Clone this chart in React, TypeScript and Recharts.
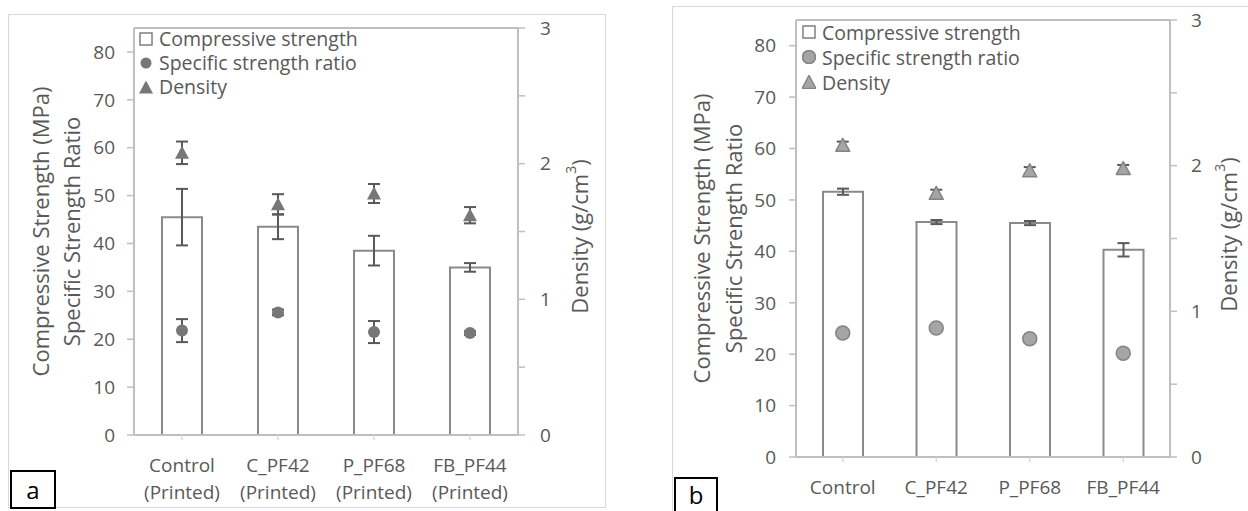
import React from 'react';
import { ComposedChart, Bar, Line, XAxis, YAxis, ErrorBar, ReferenceLine, Legend } from 'recharts';

// ---------- data ----------
const categories = ['Control', 'C_PF42', 'P_PF68', 'FB_PF44'];
const printedSuffix = '(Printed)';

const strengthA = [45.5, 43.5, 38.5, 35.0];
const strengthErrA = [5.9, 2.6, 3.1, 0.9];
const ratioA = [21.8, 25.6, 21.5, 21.3];
const ratioErrA = [2.4, 0.6, 2.3, 0.4];
const densityA = [2.08, 1.7, 1.78, 1.62];
const densityErrA = [0.083, 0.075, 0.07, 0.06];

const strengthB = [51.6, 45.7, 45.5, 40.3];
const strengthErrB = [0.6, 0.4, 0.4, 1.3];
const ratioB = [24.1, 25.1, 23.0, 20.2];
const densityB = [2.14, 1.81, 1.965, 1.98];
const densityErrB = [0.025, 0.025, 0.025, 0.025];

const leftTicks = [0, 10, 20, 30, 40, 50, 60, 70, 80];
const rightTicks = [0, 0.5, 1, 1.5, 2, 2.5, 3];
const leftMax = 85;
const rightMax = 3;

const legendLabels = ['Compressive strength', 'Specific strength ratio', 'Density'];
const leftTitle1 = 'Compressive Strength (MPa)';
const leftTitle2 = 'Specific Strength Ratio';
const rightTitle = 'Density (g/cm';
const rightTitleSup = '3';
const rightTitleEnd = ')';
const panelLabels = ['a', 'b'];

const F = "'Open Sans', sans-serif";
const TXT = '#595959';
const AX = '#bfbfbf';
const ERR = '#595959';

const dataA = categories.map((c, i) => ({
  name: c,
  strength: strengthA[i],
  strengthErr: strengthErrA[i],
  ratio: ratioA[i],
  ratioErr: ratioErrA[i],
  density: densityA[i],
  densityErr: densityErrA[i],
}));
const dataB = categories.map((c, i) => ({
  name: c,
  strength: strengthB[i],
  strengthErr: strengthErrB[i],
  ratio: ratioB[i],
  density: densityB[i],
  densityErr: densityErrB[i],
}));

type Style = {
  markerFill: string;
  markerStroke: string;
  markerStrokeWidth: number;
  circleR: number;
};

const styleA: Style = { markerFill: '#777777', markerStroke: '#777777', markerStrokeWidth: 0, circleR: 6 };
const styleB: Style = { markerFill: '#a5a5a5', markerStroke: '#848484', markerStrokeWidth: 1.5, circleR: 7 };

const triPoints = (cx: number, cy: number) =>
  `${cx},${cy - 7} ${cx + 7},${cy + 6} ${cx - 7},${cy + 6}`;

const makeCircleDot = (s: Style) => (p: any) => {
  if (p.cx == null || p.cy == null) return <g key={p.index} />;
  return (
    <circle key={p.index} cx={p.cx} cy={p.cy} r={s.circleR} fill={s.markerFill}
      stroke={s.markerStroke} strokeWidth={s.markerStrokeWidth} />
  );
};
const makeTriDot = (s: Style) => (p: any) => {
  if (p.cx == null || p.cy == null) return <g key={p.index} />;
  return (
    <polygon key={p.index} points={triPoints(p.cx, p.cy)} fill={s.markerFill}
      stroke={s.markerStroke} strokeWidth={s.markerStrokeWidth} strokeLinejoin="round" />
  );
};

const makeLegend = (s: Style, lh: number) => () => (
  <div style={{ fontFamily: F, fontSize: 19.5, color: TXT, whiteSpace: 'nowrap' }}>
    {legendLabels.map((t, i) => (
      <div key={t} style={{ display: 'flex', alignItems: 'center', height: lh, lineHeight: `${lh - 2}px` }}>
        <svg width={14} height={14} style={{ marginRight: 6, flex: 'none' }}>
          {i === 0 && <rect x={1} y={1} width={12} height={12} fill="#fff" stroke="#7f7f7f" strokeWidth={1.5} />}
          {i === 1 && <circle cx={7} cy={7} r={s.circleR - 0.5} fill={s.markerFill} stroke={s.markerStroke} strokeWidth={s.markerStrokeWidth} />}
          {i === 2 && <polygon points={triPoints(7, 7.5)} fill={s.markerFill} stroke={s.markerStroke} strokeWidth={s.markerStrokeWidth} />}
        </svg>
        <span style={{ lineHeight: `${lh - 2}px`, display: 'inline-block', height: lh - 2 }}>{t}</span>
      </div>
    ))}
  </div>
);

const makeXTick = (twoLine: boolean) => (p: any) => {
  const { x, y, payload } = p;
  return (
    <text x={x} y={y} textAnchor="middle" fill={TXT} fontFamily={F} fontSize={19}>
      <tspan x={x} dy={30}>{payload.value}</tspan>
      {twoLine && <tspan x={x} dy={27}>{printedSuffix}</tspan>}
    </text>
  );
};

const makeLeftTitle = (o1: number, o2: number) => (p: any) => {
  const vb = p.viewBox || {};
  const cy = vb.y + vb.height / 2;
  const x1 = vb.x + o1;
  const x2 = vb.x + o2;
  return (
    <g>
      <text x={x1} y={cy} transform={`rotate(-90 ${x1} ${cy})`} textAnchor="middle" dominantBaseline="central"
        fill={TXT} fontFamily={F} fontSize={22}>{leftTitle1}</text>
      <text x={x2} y={cy} transform={`rotate(-90 ${x2} ${cy})`} textAnchor="middle" dominantBaseline="central"
        fill={TXT} fontFamily={F} fontSize={22}>{leftTitle2}</text>
    </g>
  );
};

const makeRightTitle = (o: number, dyc: number) => (p: any) => {
  const vb = p.viewBox || {};
  const cy = vb.y + vb.height / 2 + dyc;
  const x = vb.x + o;
  return (
    <text x={x} y={cy} transform={`rotate(-90 ${x} ${cy})`} textAnchor="middle" dominantBaseline="central"
      fill={TXT} fontFamily={F} fontSize={22}>
      {rightTitle}
      <tspan fontSize={14} dy={-9}>{rightTitleSup}</tspan>
      <tspan dy={9}>{rightTitleEnd}</tspan>
    </text>
  );
};

type PanelProps = {
  data: any[];
  s: Style;
  left: number;
  margin: { top: number; right: number; bottom: number; left: number };
  xAxisHeight: number;
  twoLine: boolean;
  legendPos: { left: number; top: number; lh: number };
  titleOffsets: [number, number];
  rightTitleOffset: number;
  rightTitleDy: number;
  leftTickMargin: number;
  rightTickMargin: number;
  ratioErr: boolean;
};

const Panel = (P: PanelProps) => (
  <div style={{ position: 'absolute', left: P.left, top: 0, width: 620, height: 511 }}>
    <ComposedChart width={620} height={511} data={P.data} margin={P.margin}>
      <XAxis dataKey="name" height={P.xAxisHeight} axisLine={{ stroke: AX, strokeWidth: 2 }}
        tickLine={{ stroke: '#d9d9d9', strokeWidth: 1.5 }} tickSize={5} tickMargin={2}
        interval={0} tick={makeXTick(P.twoLine)} />
      <YAxis yAxisId="left" orientation="left" width={60} domain={[0, leftMax]} ticks={leftTicks}
        allowDataOverflow axisLine={{ stroke: AX, strokeWidth: 2 }} tickLine={{ stroke: AX, strokeWidth: 1.5 }}
        tickSize={7} tickMargin={P.leftTickMargin}
        tick={{ fill: TXT, fontFamily: F, fontSize: 19 }}
        label={{ content: makeLeftTitle(P.titleOffsets[0], P.titleOffsets[1]) }} />
      <YAxis yAxisId="right" orientation="right" width={60} domain={[0, rightMax]} ticks={rightTicks}
        allowDataOverflow axisLine={{ stroke: AX, strokeWidth: 2 }} tickLine={{ stroke: AX, strokeWidth: 1.5 }}
        tickSize={7} tickMargin={P.rightTickMargin}
        tickFormatter={(v: number) => (Number.isInteger(v) ? String(v) : '')}
        tick={{ fill: TXT, fontFamily: F, fontSize: 19 }}
        label={{ content: makeRightTitle(P.rightTitleOffset, P.rightTitleDy) }} />
      <ReferenceLine yAxisId="left" y={leftMax} stroke={AX} strokeWidth={2} />
      <Legend layout="vertical" align="center" verticalAlign="middle"
        wrapperStyle={{ left: P.legendPos.left, top: P.legendPos.top, width: 280, height: 80 }}
        content={makeLegend(P.s, P.legendPos.lh)} />
      <Bar yAxisId="left" dataKey="strength" barSize={40} fill="#ffffff" stroke="#8a8a8a" strokeWidth={2}
        isAnimationActive={false}>
        <ErrorBar dataKey="strengthErr" width={6} stroke={ERR} strokeWidth={2} direction="y" />
      </Bar>
      <Line yAxisId="left" dataKey="ratio" stroke="none" isAnimationActive={false}
        dot={makeCircleDot(P.s)} activeDot={false}>
        {P.ratioErr && <ErrorBar dataKey="ratioErr" width={6} stroke={ERR} strokeWidth={2} direction="y" />}
      </Line>
      <Line yAxisId="right" dataKey="density" stroke="none" isAnimationActive={false}
        dot={makeTriDot(P.s)} activeDot={false}>
        <ErrorBar dataKey="densityErr" width={6} stroke={ERR} strokeWidth={2} direction="y" />
      </Line>
    </ComposedChart>
  </div>
);

export default function App() {
  return (
    <div style={{ position: 'absolute', left: 0, top: 0, width: 1248, height: 511, overflow: 'hidden', background: '#fff' }}>
      {/* panel frames */}
      <div style={{ position: 'absolute', left: 8, top: 14, width: 596, height: 492, border: '1.5px solid #d9d9d9' }} />
      <div style={{ position: 'absolute', left: 672, top: 6, width: 600, height: 520, border: '1.5px solid #d9d9d9' }} />

      <Panel data={dataA} s={styleA} left={0}
        margin={{ top: 28, right: 42, bottom: 16, left: 74 }} xAxisHeight={60} twoLine
        legendPos={{ left: 139, top: 27, lh: 24 }} titleOffsets={[-34, -3]} rightTitleOffset={61} rightTitleDy={5}
        leftTickMargin={12} rightTickMargin={15} ratioErr />
      <Panel data={dataB} s={styleB} left={628}
        margin={{ top: 20, right: 18, bottom: 14, left: 108 }} xAxisHeight={40} twoLine={false}
        legendPos={{ left: 174, top: 19.5, lh: 25 }} titleOffsets={[-35, -3]} rightTitleOffset={58} rightTitleDy={-4}
        leftTickMargin={13} rightTickMargin={14} ratioErr={false} />

      {/* panel letters */}
      <div style={{ position: 'absolute', left: 10, top: 470, width: 42, height: 35, border: '2px solid #000',
        fontFamily: F, fontSize: 24, lineHeight: '35px', textAlign: 'center', color: '#000' }}>{panelLabels[0]}</div>
      <div style={{ position: 'absolute', left: 674, top: 477, width: 40, height: 32, border: '2px solid #000',
        borderBottom: 'none', fontFamily: F, fontSize: 24, lineHeight: '32px', textAlign: 'center', color: '#000' }}>{panelLabels[1]}</div>
    </div>
  );
}
